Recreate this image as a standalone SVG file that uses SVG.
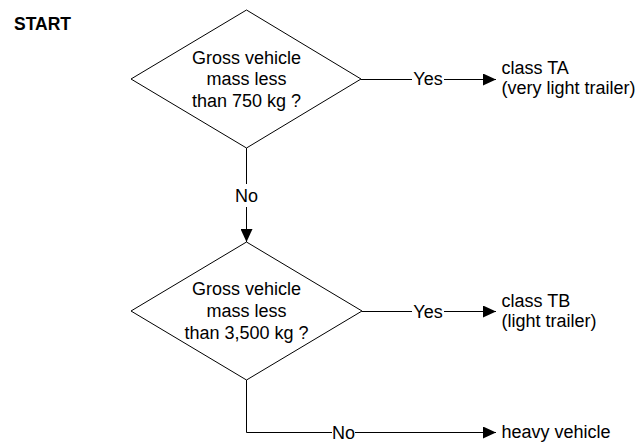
<svg xmlns="http://www.w3.org/2000/svg" width="638" height="442" viewBox="0 0 638 442">
  <style>
    .shape { fill: #fff; stroke: #000; stroke-width: 1; }
    .line { fill: none; stroke: #000; stroke-width: 1; }
    text { font-family: "Liberation Sans", Arial, sans-serif; font-size: 18px; fill: #000; }
    .mid { text-anchor: middle; }
    .bold { font-weight: bold; font-size: 17.5px; }
  </style>
  <defs>
    <marker id="arrow" markerUnits="userSpaceOnUse" markerWidth="14" markerHeight="12" refX="13" refY="6" orient="auto">
      <path d="M0,0 L13,6 L0,12 Z" fill="#000"/>
    </marker>
  </defs>

  <rect width="638" height="442" fill="#fff"/>

  <g id="start">
    <text class="bold" x="14" y="30">START</text>
  </g>

  <g id="decision-750">
    <polygon class="shape" points="246.5,10 361,79 246.5,148 131,79"/>
    <text class="mid" x="246.5" y="63.5">Gross vehicle</text>
    <text class="mid" x="246.5" y="85">mass less</text>
    <text class="mid" x="246.5" y="106.5">than 750 kg ?</text>
  </g>

  <g id="class-ta">
    <text x="501.5" y="73.5">class TA</text>
    <text x="501.5" y="93.5">(very light trailer)</text>
  </g>

  <g id="decision-3500">
    <polygon class="shape" points="246.5,242 362,311 246.5,380 131,311"/>
    <text class="mid" x="246.5" y="295">Gross vehicle</text>
    <text class="mid" x="246.5" y="316.5">mass less</text>
    <text class="mid" x="246.5" y="338.5">than 3,500 kg ?</text>
  </g>

  <g id="class-tb">
    <text x="501.5" y="306.5">class TB</text>
    <text x="501.5" y="326.5">(light trailer)</text>
  </g>

  <g id="heavy-vehicle">
    <text x="501.5" y="438">heavy vehicle</text>
  </g>

  <g id="connectors">
    <!-- 750 kg: Yes -->
    <path class="line" d="M361,79.5 H412"/>
    <path class="line" d="M444,79.5 H496" marker-end="url(#arrow)"/>
    <text class="mid" x="428" y="85">Yes</text>

    <!-- 750 kg: No -->
    <path class="line" d="M246.5,148 V184"/>
    <path class="line" d="M246.5,207 V242" marker-end="url(#arrow)"/>
    <text class="mid" x="246.5" y="201.5">No</text>

    <!-- 3,500 kg: Yes -->
    <path class="line" d="M362,311.5 H412"/>
    <path class="line" d="M444,311.5 H496" marker-end="url(#arrow)"/>
    <text class="mid" x="428" y="317.5">Yes</text>

    <!-- 3,500 kg: No -->
    <path class="line" d="M246.5,380 V432.5 H332"/>
    <path class="line" d="M355,432.5 H496" marker-end="url(#arrow)"/>
    <text class="mid" x="343.5" y="438.5">No</text>
  </g>
</svg>
